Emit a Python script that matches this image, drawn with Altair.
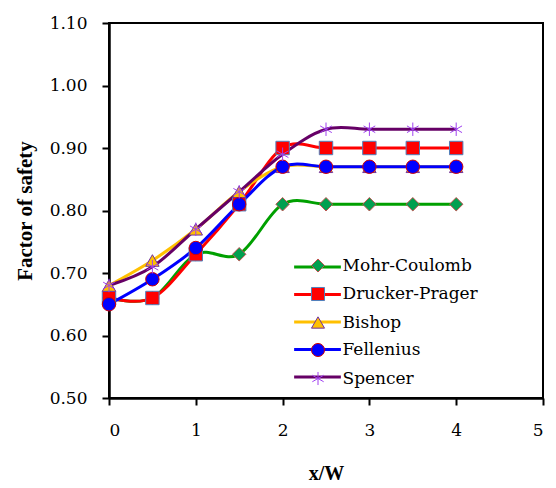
import altair as alt
import pandas as pd

x_vals = [0, 0.5, 1, 1.5, 2, 2.5, 3, 3.5, 4]
series_names = ["Mohr-Coulomb", "Drucker-Prager", "Bishop", "Fellenius", "Spencer"]
mohr = [0.66, 0.66, 0.73, 0.73, 0.81, 0.81, 0.81, 0.81, 0.81]
drucker = [0.66, 0.66, 0.73, 0.81, 0.90, 0.90, 0.90, 0.90, 0.90]
bishop = [0.68, 0.72, 0.77, 0.83, 0.87, 0.87, 0.87, 0.87, 0.87]
fellenius = [0.65, 0.69, 0.74, 0.81, 0.87, 0.87, 0.87, 0.87, 0.87]
spencer = [0.68, 0.71, 0.77, 0.83, 0.89, 0.93, 0.93, 0.93, 0.93]
y_ticks = [0.5, 0.6, 0.7, 0.8, 0.9, 1.0, 1.1]
x_ticks = [0, 1, 2, 3, 4, 5]

line_colors = ["#00A000", "#FF0000", "#FFC000", "#0000FF", "#660066"]
marker_fills = ["#00A050", "#FF0000", "#FFC000", "#0000FF", "transparent"]
marker_strokes = ["#C0504D", "#4F81BD", "#7030A0", "#D00000", "#A040F0"]
star = "M0,-1L0,1M-0.87,-0.5L0.87,0.5M-0.87,0.5L0.87,-0.5"
shapes = ["diamond", "square", "triangle-up", "circle", star]

all_vals = [mohr, drucker, bishop, fellenius, spencer]
rows = []
for name, vals in zip(series_names, all_vals):
    for xv, yv in zip(x_vals, vals):
        rows.append({"series": name, "x": xv, "y": yv})
df = pd.DataFrame(rows)

LABEL_FONT = "DejaVu Serif"
TITLE_FONT = "Liberation Serif"

x_enc = alt.X("x:Q", scale=alt.Scale(domain=[0, 5], nice=False),
              axis=alt.Axis(values=x_ticks, format="d", title="x/W", tickSize=7,
                            labelFont=LABEL_FONT, labelFontSize=17,
                            labelPadding=17, titlePadding=25, titleFontSize=20))
y_enc = alt.Y("y:Q", scale=alt.Scale(domain=[0.5, 1.1], nice=False, zero=False),
              axis=alt.Axis(values=y_ticks, format=".2f", title="Factor of safety",
                            labelFont=LABEL_FONT, labelFontSize=17,
                            tickSize=7, labelPadding=15, titlePadding=14, titleFontSize=21))

lines = alt.Chart(df).mark_line(interpolate="cardinal", strokeWidth=3).encode(
    x=x_enc, y=y_enc,
    color=alt.Color("series:N", sort=series_names,
                    scale=alt.Scale(range=line_colors),
                    legend=alt.Legend(orient="none", legendX=198.5, legendY=234, title=None,
                                      symbolType="M-2.75,0H2.75", symbolSize=289,
                                      symbolStrokeWidth=3, labelFontSize=17, labelFont=LABEL_FONT,
                                      labelExpr="''", rowPadding=9.5, padding=0)),
    order=alt.Order("x:Q"),
)

leg2 = dict(orient="none", legendX=200.5, legendY=234, title=None,
            symbolSize=170, symbolStrokeWidth=1, labelFontSize=17,
            labelFont=LABEL_FONT, labelColor="black", labelOffset=16,
            rowPadding=9.5, padding=0, labelLimit=400)

points = alt.Chart(df).mark_point(filled=True, size=180, strokeWidth=1, opacity=1).encode(
    x=x_enc, y=y_enc,
    fill=alt.Fill("series:N", scale=alt.Scale(domain=series_names, range=marker_fills),
                  legend=alt.Legend(**leg2)),
    shape=alt.Shape("series:N", scale=alt.Scale(domain=series_names, range=shapes),
                    legend=alt.Legend(**leg2)),
    stroke=alt.Stroke("series:N", scale=alt.Scale(domain=series_names, range=marker_strokes),
                      legend=alt.Legend(**leg2)),
)

chart = alt.layer(lines, points).properties(
    width=434, height=375,
    autosize=alt.AutoSizeParams(type="none"),
    padding={"left": 101, "top": 15, "right": 5, "bottom": 85},
).configure_view(stroke="black", strokeWidth=2).configure_axis(
    grid=False, domainColor="black", domainWidth=2.5, tickColor="black", tickWidth=2,
    labelColor="black",
    titleFont=TITLE_FONT, titleFontWeight="bold", titleColor="black",
)

chart.save("out.html", embed_options={"renderer": "svg", "actions": False})
